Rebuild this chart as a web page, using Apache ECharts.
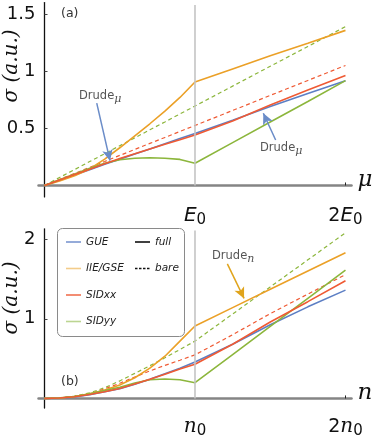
<!DOCTYPE html>
<html>
<head>
<meta charset="utf-8">
<title>Drude conductivity</title>
<script src="https://cdn.jsdelivr.net/npm/echarts@6/dist/echarts.min.js"></script>
<style>
  html, body { margin: 0; padding: 0; background: #fff; }
  #chart { width: 374px; height: 439px; }
</style>
</head>
<body>
<div id="chart"></div>
<script>
// x positions in units of E0 (panel a) and n0 (panel b)
const xGrid = [0, 0.1, 0.2, 0.3, 0.4, 0.5, 0.6, 0.7, 0.8, 0.9, 1.0, 1.25, 1.5, 1.75, 2.0];

// panel (a): sigma vs mu
const gueFullA   = [0, 0.045, 0.092, 0.138, 0.185, 0.23, 0.275, 0.32, 0.365, 0.41, 0.455, 0.57, 0.69, 0.805, 0.917];
const iieFullA   = [0, 0.04, 0.085, 0.145, 0.23, 0.33, 0.435, 0.54, 0.65, 0.77, 0.905, 1.02, 1.135, 1.245, 1.357];
const sidxxFullA = [0, 0.047, 0.095, 0.142, 0.19, 0.235, 0.277, 0.32, 0.36, 0.40, 0.442, 0.565, 0.705, 0.835, 0.963];
const sidyyFullA = [0, 0.05, 0.1, 0.15, 0.195, 0.225, 0.238, 0.243, 0.238, 0.228, 0.195, 0.375, 0.555, 0.735, 0.917];
const sidxxBareA = [0, 0.053, 0.105, 0.158, 0.21, 0.263, 0.315, 0.368, 0.42, 0.473, 0.525, 0.656, 0.788, 0.919, 1.05];
const sidyyBareA = [0, 0.07, 0.139, 0.209, 0.278, 0.348, 0.417, 0.487, 0.556, 0.626, 0.695, 0.869, 1.043, 1.216, 1.39];

// panel (b): sigma vs n
const gueFullB   = [0, 0.005, 0.02, 0.048, 0.083, 0.122, 0.178, 0.24, 0.31, 0.38, 0.457, 0.68, 0.925, 1.15, 1.36];
const iieFullB   = [0, 0.005, 0.025, 0.058, 0.105, 0.17, 0.26, 0.38, 0.53, 0.72, 0.91, 1.14, 1.37, 1.60, 1.83];
const sidxxFullB = [0, 0.005, 0.022, 0.05, 0.085, 0.125, 0.18, 0.24, 0.305, 0.37, 0.43, 0.68, 0.96, 1.215, 1.477];
const sidyyFullB = [0, 0.006, 0.025, 0.058, 0.1, 0.14, 0.195, 0.235, 0.245, 0.235, 0.198, 0.551, 0.904, 1.257, 1.61];
const sidxxBareB = [0, 0.006, 0.025, 0.055, 0.12, 0.19, 0.27, 0.345, 0.415, 0.48, 0.547, 0.8, 1.065, 1.31, 1.555];
const sidyyBareB = [0, 0.008, 0.03, 0.07, 0.135, 0.22, 0.315, 0.41, 0.51, 0.615, 0.72, 1.06, 1.40, 1.74, 2.08];

// ticks
const xTickVals = [1, 2];
const xTickTextA = ['E0', '2E0'];
const xTickTextB = ['n0', '2n0'];
const yTickValsA = [0.5, 1, 1.5];
const yTickTextA = ['0.5', '1', '1.5'];
const yTickValsB = [1, 2];
const yTickTextB = ['1', '2'];

const legendNames = ['GUE', 'IIE/GSE', 'SIDxx', 'SIDyy'];
const styleNames = ['full', 'bare'];

// arrows: [from, to] in data coordinates
const arrowA1 = [[0.347, 0.72], [0.435, 0.217]];
const arrowA2 = [[1.536, 0.398], [1.454, 0.632]];
const arrowB1 = [[1.215, 1.69], [1.326, 1.256]];

document.addEventListener('DOMContentLoaded', () => {
    const COLORS = { gue: '#5d7fc4', iie: '#eba027', sidxx: '#ef5a34', sidyy: '#8cb63c' };
    const LEGEND_COLORS = ['#7b97d0', '#f3cc8a', '#f07050', '#bcd592'];

    const chart = echarts.init(document.getElementById('chart'), null, { renderer: 'canvas' });

    const pairs = (vals) => xGrid.map((x, i) => [x, vals[i]]);

    const line = (name, vals, idx, color, dashed, z) => ({
        name,
        type: 'line',
        xAxisIndex: idx,
        yAxisIndex: idx,
        data: pairs(vals),
        symbol: 'none',
        silent: true,
        z: z,
        lineStyle: { color, width: dashed ? 1.2 : 1.6, type: dashed ? [4, 3] : 'solid' }
    });

    const arrowItem = (a, color) => [
        { coord: a[0], symbol: 'none', lineStyle: { color, width: 1.5, type: 'solid' } },
        { coord: a[1], symbol: 'arrow', symbolSize: [8, 11] }
    ];

    const vline = (top) => [
        { coord: [1, 0], symbol: 'none', lineStyle: { color: '#c4c4c4', width: 1.6, type: 'solid' } },
        { coord: [1, top], symbol: 'none' }
    ];

    // 'E0' -> E in italic with a subscript 0
    const subLabel = (txt) => {
        const m = txt.match(/^(\d*)([A-Za-z])0$/);
        return (m[1] ? '{r|' + m[1] + '}' : '') + '{i|' + m[2] + '}{s|0}';
    };

    const xAxisBase = (texts, nameTxt, italicFont, idx) => ({
        type: 'value',
        gridIndex: idx,
        min: -0.04,
        max: 2.04,
        name: nameTxt,
        nameLocation: 'end',
        nameGap: 6,
        nameTextStyle: {
            fontFamily: 'DejaVu Serif', fontStyle: 'italic', fontSize: 23, color: '#111',
            verticalAlign: 'bottom', padding: [0, 0, -6, 0]
        },
        axisLine: { onZero: true, lineStyle: { color: '#858585', width: 2.5 } },
        axisTick: { show: true, customValues: [2], inside: true, length: 3, lineStyle: { color: '#222', width: 1 } },
        splitLine: { show: false },
        axisLabel: {
            customValues: xTickVals,
            margin: 7,
            formatter: (v) => subLabel(texts[xTickVals.indexOf(v)]),
            rich: {
                r: { fontFamily: 'DejaVu Sans', fontSize: 19, color: '#111' },
                i: { fontFamily: italicFont, fontStyle: 'italic', fontSize: 20, color: '#111' },
                s: { fontFamily: 'DejaVu Sans', fontSize: 15, color: '#111', padding: [9, 0, 0, 0] }
            }
        }
    });

    const yAxisBase = (vals, texts, min, max, idx) => ({
        type: 'value',
        gridIndex: idx,
        min, max,
        axisLine: { onZero: true, lineStyle: { color: '#111', width: 1.3 } },
        axisTick: { show: true, customValues: vals, inside: true, length: 3, lineStyle: { color: '#444' } },
        splitLine: { show: false },
        axisLabel: {
            customValues: vals,
            margin: 3,
            fontFamily: 'DejaVu Sans',
            fontSize: 18,
            color: '#111',
            formatter: (v) => texts[vals.indexOf(v)]
        }
    });

    const legendGraphics = () => {
        const els = [{
            type: 'rect', left: 57, top: 228,
            shape: { width: 127, height: 108, r: 5 },
            style: { fill: '#fff', stroke: '#8a8a8a', lineWidth: 1 },
            z: 50
        }];
        const rowsY = [242, 268.5, 295, 321.5];
        legendNames.forEach((nm, i) => {
            els.push({ type: 'line', shape: { x1: 66, y1: rowsY[i], x2: 81, y2: rowsY[i] },
                style: { stroke: LEGEND_COLORS[i], lineWidth: 1.6 }, z: 51 });
            els.push({ type: 'text', x: 86, y: rowsY[i],
                style: { text: nm, fontFamily: 'DejaVu Sans', fontStyle: 'italic', fontSize: 10.5,
                    fill: '#222', verticalAlign: 'middle' }, z: 51 });
        });
        styleNames.forEach((nm, i) => {
            els.push({ type: 'line', shape: { x1: 135, y1: rowsY[i], x2: 150, y2: rowsY[i] },
                style: { stroke: '#111', lineWidth: 1.6, lineDash: i ? [2.5, 1.5] : null }, z: 51 });
            els.push({ type: 'text', x: 155, y: rowsY[i],
                style: { text: nm, fontFamily: 'DejaVu Sans', fontStyle: 'italic', fontSize: 10.5,
                    fill: '#222', verticalAlign: 'middle' }, z: 51 });
        });
        return els;
    };

    const drudeText = (x, y, sub, subFont) => ({
        type: 'text', x, y, z: 60,
        style: {
            text: '{d|Drude}{s|' + sub + '}',
            verticalAlign: 'middle',
            rich: {
                d: { fontFamily: 'DejaVu Sans', fontSize: 11.5, fill: '#555' },
                s: { fontFamily: subFont, fontStyle: 'italic', fontSize: 11, fill: '#555', padding: [7, 0, 0, 0] }
            }
        }
    });

    const yTitle = (cy) => ({
        type: 'text', x: 12, y: cy, rotation: Math.PI / 2, z: 60,
        style: {
            text: 'σ (a.u.)',
            fontFamily: 'DejaVu Serif', fontStyle: 'italic', fontSize: 20, fill: '#111',
            align: 'center', verticalAlign: 'middle'
        }
    });

    const option = {
        animation: false,
        backgroundColor: '#fff',
        grid: [
            { left: 38.5, top: 2.6, width: 313, height: 194.3 },
            { left: 38.5, top: 228.8, width: 313, height: 193.5 }
        ],
        xAxis: [
            xAxisBase(xTickTextA, 'μ', 'DejaVu Sans', 0),
            xAxisBase(xTickTextB, 'n', 'DejaVu Serif', 1)
        ],
        yAxis: [
            yAxisBase(yTickValsA, yTickTextA, -0.1, 1.6, 0),
            yAxisBase(yTickValsB, yTickTextB, -0.12, 2.13, 1)
        ],
        series: [
            line('SIDyy bare', sidyyBareA, 0, COLORS.sidyy, true, 2),
            line('SIDxx bare', sidxxBareA, 0, COLORS.sidxx, true, 2),
            line('GUE', gueFullA, 0, COLORS.gue, false, 3),
            line('IIE/GSE', iieFullA, 0, COLORS.iie, false, 3),
            line('SIDyy', sidyyFullA, 0, COLORS.sidyy, false, 3),
            Object.assign(line('SIDxx', sidxxFullA, 0, COLORS.sidxx, false, 3), {
                markLine: {
                    silent: true, animation: false, label: { show: false },
                    symbol: ['none', 'none'],
                    data: [vline(1.58), arrowItem(arrowA1, '#6a8cc8'), arrowItem(arrowA2, '#6a8cc8')]
                }
            }),
            line('SIDyy bare', sidyyBareB, 1, COLORS.sidyy, true, 2),
            line('SIDxx bare', sidxxBareB, 1, COLORS.sidxx, true, 2),
            line('GUE', gueFullB, 1, COLORS.gue, false, 3),
            line('IIE/GSE', iieFullB, 1, COLORS.iie, false, 3),
            line('SIDyy', sidyyFullB, 1, COLORS.sidyy, false, 3),
            Object.assign(line('SIDxx', sidxxFullB, 1, COLORS.sidxx, false, 3), {
                markLine: {
                    silent: true, animation: false, label: { show: false },
                    symbol: ['none', 'none'],
                    data: [vline(2.11), arrowItem(arrowB1, '#e0a41c')]
                }
            })
        ],
        graphic: [
            yTitle(66),
            yTitle(298),
            { type: 'text', x: 61, y: 14, z: 60,
              style: { text: '(a)', fontFamily: 'DejaVu Sans', fontSize: 12.5, fill: '#333', verticalAlign: 'middle' } },
            { type: 'text', x: 61, y: 382, z: 60,
              style: { text: '(b)', fontFamily: 'DejaVu Sans', fontSize: 12.5, fill: '#333', verticalAlign: 'middle' } },
            drudeText(79, 96, 'μ', 'DejaVu Serif'),
            drudeText(260, 148, 'μ', 'DejaVu Serif'),
            drudeText(212, 256, 'n', 'DejaVu Serif'),
            ...legendGraphics()
        ]
    };

    chart.setOption(option);
});
</script>
</body>
</html>
